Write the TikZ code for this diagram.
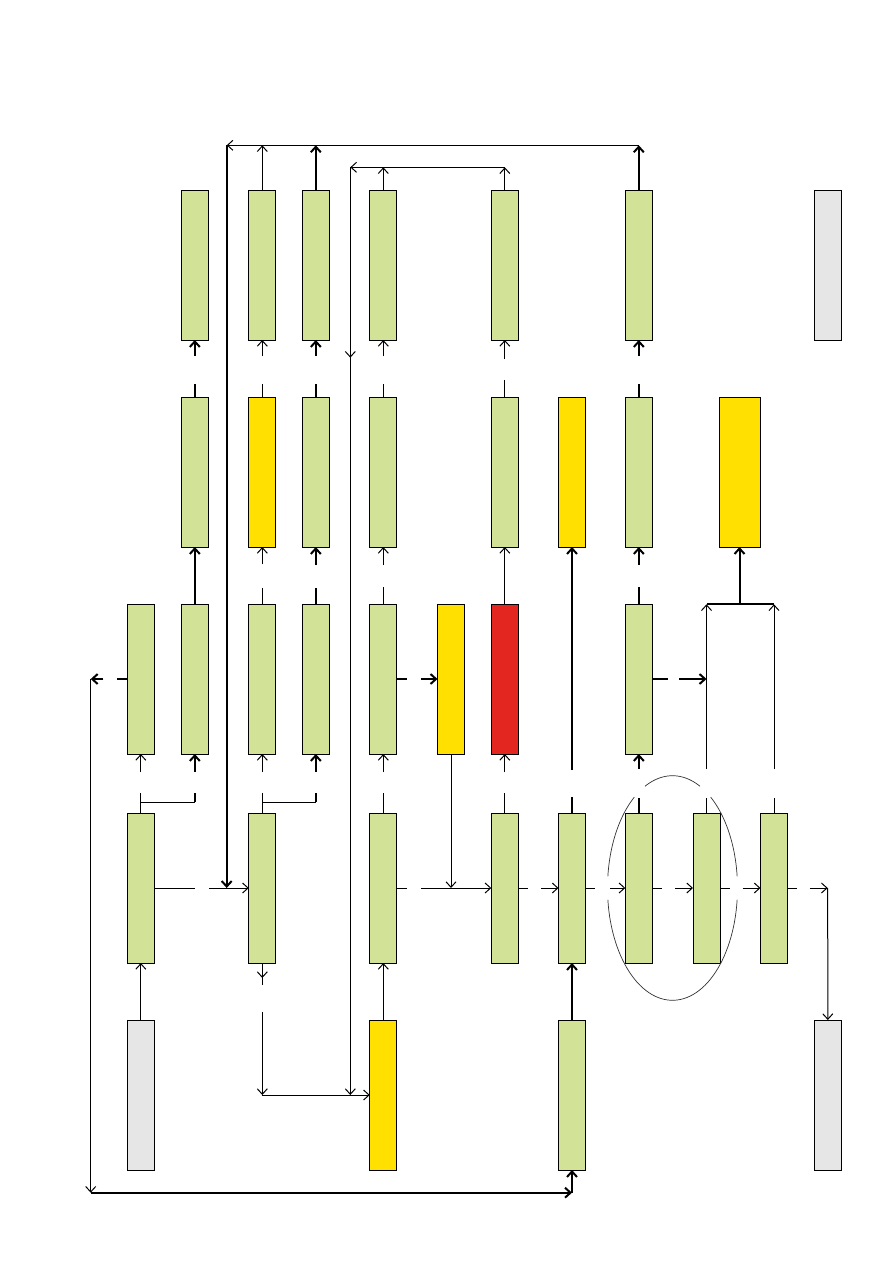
\documentclass[tikz,border=0pt]{standalone}
\usetikzlibrary{arrows.meta,decorations.markings}
\definecolor{boxgreen}{RGB}{210,227,151}
\definecolor{boxyellow}{RGB}{255,224,0}
\definecolor{boxred}{RGB}{228,38,33}
\definecolor{boxgray}{RGB}{230,230,230}
\begin{document}
\begin{tikzpicture}[x=1pt,y=-1pt,
  >={Straight Barb[length=5.5pt,width=10pt]},
  conn/.style={line width=1pt},
  tconn/.style={line width=2pt},
  gapped/.style 2 args={dash pattern=on #1pt off #2pt on 3000pt},
  box/.style={draw=black,line width=0.9pt,minimum width=27pt,minimum height=150pt,inner sep=0pt,outer sep=0pt},
  gbox/.style={box,fill=boxgreen},
  ybox/.style={box,fill=boxyellow},
  rbox/.style={box,fill=boxred},
  grbox/.style={box,fill=boxgray},
  ellline/.style={line width=0.7pt,draw=black!80}
]
\fill[white] (0,0) rectangle (893,1263);
\useasboundingbox (0,0) rectangle (893,1263);

% boxes
\node[gbox] (A3) at (140.8,679) {};
\node[gbox] (A4) at (140.8,888) {};
\node[grbox] (A5) at (140.8,1095) {};
\node[gbox] (B1) at (194.8,265) {};
\node[gbox] (B2) at (194.8,472) {};
\node[gbox] (B3) at (194.8,679) {};
\node[gbox] (C1) at (262.3,265) {};
\node[ybox] (C2) at (262.3,472) {};
\node[gbox] (C3) at (262.3,679) {};
\node[gbox] (C4) at (262.3,888) {};
\node[gbox] (D1) at (315.8,265) {};
\node[gbox] (D2) at (315.8,472) {};
\node[gbox] (D3) at (315.8,679) {};
\node[gbox] (E1) at (383.3,265) {};
\node[gbox] (E2) at (383.3,472) {};
\node[gbox] (E3) at (383.3,679) {};
\node[gbox] (E4) at (383.3,888) {};
\node[ybox] (E5) at (383.3,1095) {};
\node[ybox] (F3) at (451,679) {};
\node[gbox] (G1) at (504.8,265) {};
\node[gbox] (G2) at (504.8,472) {};
\node[rbox] (G3) at (504.8,679) {};
\node[gbox] (G4) at (504.8,888) {};
\node[ybox] (H2) at (572,472) {};
\node[gbox] (H4) at (572,888) {};
\node[gbox] (H5) at (572,1095) {};
\node[gbox] (I1) at (638.8,265) {};
\node[gbox] (I2) at (638.8,472) {};
\node[gbox] (I3) at (638.8,679) {};
\node[gbox] (I4) at (638.8,888) {};
\node[gbox] (J4) at (706.5,888) {};
\node[ybox,minimum width=41pt] (K2) at (739.5,472) {};
\node[gbox] (L4) at (774,888) {};
\node[grbox] (M1) at (827.8,265) {};
\node[grbox] (M5) at (827.8,1095) {};

% ellipse (with gaps where labels sat)
\draw[ellline] plot[domain=6:174,samples=60] ({672.5+65*cos(\x)},{888+112.3*sin(\x)});
\draw[ellline] plot[domain=186:234,samples=25] ({672.5+65*cos(\x)},{888+112.3*sin(\x)});
\draw[ellline] plot[domain=245:295,samples=25] ({672.5+65*cos(\x)},{888+112.3*sin(\x)});
\draw[ellline] plot[domain=306:354,samples=25] ({672.5+65*cos(\x)},{888+112.3*sin(\x)});

% junction coordinates
\coordinate (t0) at (226.7,145.3);
\coordinate (tC) at (262.3,145.3);
\coordinate (tD) at (315.8,145.3);
\coordinate (tI) at (638.8,145.3);
\coordinate (va) at (226.7,888);
\coordinate (u0) at (350.3,167.3);
\coordinate (uE) at (383.3,167.3);
\coordinate (uG) at (504.8,167.3);
\coordinate (ub) at (350.3,1095);
\coordinate (q1) at (262.3,1095);
\coordinate (ab) at (194.8,802);
\coordinate (cd) at (315.8,802);
\coordinate (p1) at (90.7,679);
\coordinate (p2) at (90.7,1192.7);
\coordinate (p3) at (572,1192.7);
\coordinate (fd) at (451,888);
\coordinate (kI) at (706.5,679);
\coordinate (kJ) at (706.5,604.3);
\coordinate (kL) at (774,604.3);
\coordinate (kK) at (739.5,604.3);
\coordinate (mR) at (827.7,888);

% row 2 -> row 1
\draw[tconn,->,gapped={13}{28}] (B2.north) -- (B1.south);
\draw[conn,->,gapped={13}{28}] (C2.north) -- (C1.south);
\draw[tconn,->,gapped={13}{28}] (D2.north) -- (D1.south);
\draw[conn,->,gapped={13}{28}] (E2.north) -- (E1.south);
\draw[conn,->,gapped={17}{21}] (G2.north) -- (G1.south);
\draw[tconn,->,gapped={13}{28}] (I2.north) -- (I1.south);

% row 3 -> row 2
\draw[tconn,->] (B3.north) -- (B2.south);
\draw[conn,->,gapped={16}{24}] (C3.north) -- (C2.south);
\draw[tconn,->,gapped={16}{23}] (D3.north) -- (D2.south);
\draw[conn,->,gapped={17}{22}] (E3.north) -- (E2.south);
\draw[conn,->] (G3.north) -- (G2.south);
\draw[tconn,->,gapped={17}{22}] (I3.north) -- (I2.south);

% row 4 -> row 3 (forks)
\draw[conn] (A4.north) |- (ab);
\draw[conn,->,gapped={20}{21}] (A4.north) -- (A3.south);
\draw[tconn,->,gapped={9}{21}] (ab) -- (B3.south);
\draw[conn] (C4.north) |- (cd);
\draw[conn,->,gapped={20}{21}] (C4.north) -- (C3.south);
\draw[tconn,->,gapped={9}{21}] (cd) -- (D3.south);
\draw[conn,->,gapped={20}{21}] (E4.north) -- (E3.south);
\draw[conn,->,gapped={20}{21}] (G4.north) -- (G3.south);
\draw[tconn,->,gapped={16}{27}] (H4.north) -- (H2.south);
\draw[tconn,->,gapped={15}{29}] (I4.north) -- (I3.south);
\draw[conn,->,gapped={15}{29}] (J4.north) -- (kJ);
\draw[conn,->,gapped={15}{29}] (L4.north) -- (kL);
\draw[tconn] (kJ) -- (kL);
\draw[tconn,->] (kK) -- (K2.south);

% row 3 side connectors
\draw[tconn,->,gapped={10}{14}] (A3.west) -- (p1);
\draw[conn,->] (p1) -- (p2);
\draw[tconn,->] (p2) -- (p3);
\draw[tconn,->] (p3) -- (H5.south);
\draw[tconn,->,gapped={10}{14}] (E3.east) -- (F3.west);
\draw[tconn,->,gapped={16}{11}] (I3.east) -- (kI);
\draw[conn,->] (F3.south) -- (fd);

% row 4 horizontal chain
\draw[conn,->,gapped={41}{14}] (A4.east) -- (C4.west);
\draw[conn,->,gapped={10}{14}] (E4.east) -- (G4.west);
\draw[conn,->,gapped={10}{13}] (G4.east) -- (H4.west);
\draw[conn,->,gapped={9.5}{15}] (H4.east) -- (I4.west);
\draw[conn,->,gapped={10}{13}] (I4.east) -- (J4.west);
\draw[conn,->,gapped={9.5}{13}] (J4.east) -- (L4.west);
\draw[conn,->,gapped={9}{13}] (L4.east) -- (mR);
\draw[conn,->] (mR) -- (M5.north);

% row 5 -> row 4
\draw[conn,->] (A5.north) -- (A4.south);
\draw[conn,->] (E5.north) -- (E4.south);
\draw[tconn,->] (H5.north) -- (H4.south);

% top return line
\draw[conn,->] (C1.north) -- (tC);
\draw[tconn,->] (D1.north) -- (tD);
\draw[tconn,->] (I1.north) -- (tI);
\draw[conn,->] (tI) -- (t0);
\draw[tconn,->] (t0) -- (va);

% second return line
\draw[conn,->] (E1.north) -- (uE);
\draw[conn,->] (G1.north) -- (uG);
\draw[conn,->] (uG) -- (u0);
\draw[conn,->,postaction={decorate},decoration={markings,mark=at position 190.4pt with {\arrow{>}}}] (u0) -- (ub);
\draw[conn,->,gapped={22}{27},postaction={decorate},decoration={markings,mark=at position 15pt with {\arrow{>}}}] (C4.south) -- (q1);
\draw[conn,->] (q1) -- (E5.west);
\end{tikzpicture}
\end{document}
